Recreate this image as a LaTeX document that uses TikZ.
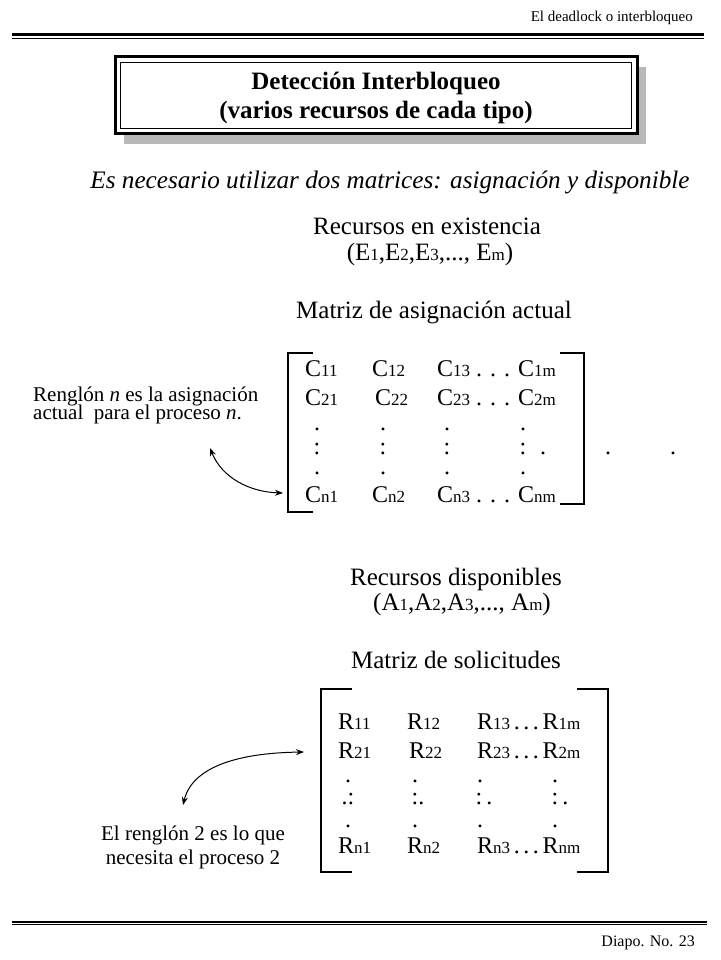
\documentclass[tikz,border=0pt]{standalone}
\usepackage{fontspec}
\setmainfont{Liberation Serif}
\usetikzlibrary{arrows.meta}
\newcommand{\ix}[1]{{\fontsize{17}{17}\selectfont #1}}
\newcommand{\tdots}{\hspace{0.15em}.\hspace{0.15em}.\hspace{0.15em}.\hspace{0.15em}}
\begin{document}
\begin{tikzpicture}[x=1pt,y=-1pt,
  hdr/.style={inner sep=0pt, anchor=base east, font=\fontsize{15}{18}\selectfont},
  ttl/.style={inner sep=0pt, anchor=base, font=\fontsize{25}{29}\selectfont\bfseries},
  body/.style={inner sep=0pt, anchor=base, font=\fontsize{25}{29}\selectfont},
  ent/.style={inner sep=0pt, anchor=base west, font=\fontsize{24}{28}\selectfont},
  dotn/.style={inner sep=0pt, anchor=base, text height=0.4em, text depth=0pt, font=\fontsize{24}{28}\selectfont},
  lbl/.style={inner sep=0pt, font=\fontsize{21}{24}\selectfont},
  brk/.style={line width=1.4pt},
  rulethick/.style={line width=2.4pt},
  rulethin/.style={line width=1.2pt},
  arr/.style={line width=1pt, {Stealth[length=8pt,width=6pt]}-{Stealth[length=8pt,width=6pt]}}
]
\useasboundingbox (0,0) rectangle (720,960);
% header
\node[hdr] (hdr) at (693,22) {El deadlock o interbloqueo};
\coordinate (hl1) at (12,34.5); \coordinate (hr1) at (704,34.5);
\coordinate (hl2) at (12,38.2); \coordinate (hr2) at (704,38.2);
\draw[rulethick] (hl1) -- (hr1);
\draw[rulethin] (hl2) -- (hr2);
% title box
\fill[gray!55] (124,67) rectangle (646,144);
\fill[white] (115,57) rectangle (637,134);
\draw[line width=3pt] (115,57) rectangle (637,134);
\draw[line width=0.8pt] (120.5,62.5) rectangle (631.5,128.5);
\node[ttl] (t1) at (376,90) {Detección Interbloqueo};
\node[ttl] (t2) at (376,119) {(varios recursos de cada tipo)};
% intro
\node[body, font=\fontsize{25.2}{29}\selectfont\itshape] (intro) at (390,188) {Es necesario utilizar dos matrices: asignación y disponible};
\node[body] (rexist) at (427,234) {Recursos en existencia};
\node[body] (evec) at (430,260) {(E\ix{1},E\ix{2},E\ix{3},..., E\ix{m})};
\node[body] (masig) at (434,318) {Matriz de asignación actual};
% matrix C
\draw[brk] (313,353) -- (288,353) -- (288,512) -- (313,512);
\draw[brk] (560,353) -- (584,353) -- (584,504) -- (560,504);
\node[ent] (c11) at (305,376) {C\ix{11}};
\node[ent] (c12) at (372,376) {C\ix{12}};
\node[ent] (c13) at (437,376) {C\ix{13} . . . C\ix{1m}};
\node[ent] (c21) at (305,405) {C\ix{21}};
\node[ent] (c22) at (375,405) {C\ix{22}};
\node[ent] (c23) at (437,405) {C\ix{23} . . . C\ix{2m}};
\foreach \x [count=\i] in {317,383,447,523}{
  \node[dotn] (cda\i) at (\x,430) {.};
  \node[dotn] (cdb\i) at (\x,454) {:};
  \node[dotn] (cdc\i) at (\x,474) {.};
}
\node[dotn] (cde) at (543,454) {.};
\node[dotn] (cdf) at (608,454) {.};
\node[dotn] (cdg) at (673,454) {.};
\node[ent] (cn1) at (305,502) {C\ix{n1}};
\node[ent] (cn2) at (372,502) {C\ix{n2}};
\node[ent] (cn3) at (437,502) {C\ix{n3} . . . C\ix{nm}};
% label 1
\node[lbl, anchor=base west] (l1a) at (33,401) {Renglón \textit{n} es la asignación};
\node[lbl, anchor=base west] (l1b) at (33,419) {actual\ \ para el proceso \textit{n}.};
\coordinate (a1s) at (210,448);
\coordinate (a1e) at (283,493);
\draw[arr] (a1s) .. controls (222,478) and (250,492) .. (a1e);
% recursos disponibles
\node[body] (rdisp) at (456,585) {Recursos disponibles};
\node[body] (avec) at (462,610) {(A\ix{1},A\ix{2},A\ix{3},..., A\ix{m})};
\node[body] (msol) at (456,668) {Matriz de solicitudes};
% matrix R
\draw[brk] (352,689) -- (321,689) -- (321,872) -- (352,872);
\draw[brk] (577,689) -- (608,689) -- (608,872) -- (577,872);
\node[ent] (r11) at (338,729) {R\ix{11}};
\node[ent] (r12) at (407,729) {R\ix{12}};
\node[ent] (r13) at (477,729) {R\ix{13}\tdots R\ix{1m}};
\node[ent] (r21) at (338,758) {R\ix{21}};
\node[ent] (r22) at (409,758) {R\ix{22}};
\node[ent] (r23) at (477,758) {R\ix{23}\tdots R\ix{2m}};
\foreach \x [count=\i] in {348,415,480,555}{
  \node[dotn] (rda\i) at (\x,782) {.};
  \node[dotn] (rdc\i) at (\x,827) {.};
}
\node[dotn] (rdb1) at (348,804) {.:};
\node[dotn] (rdb2) at (418,804) {:.};
\node[dotn] (rdb3) at (484,804) {:\,.};
\node[dotn] (rdb4) at (560,804) {:\,.};
\node[ent] (rn1) at (338,853) {R\ix{n1}};
\node[ent] (rn2) at (407,853) {R\ix{n2}};
\node[ent] (rn3) at (477,853) {R\ix{n3}\tdots R\ix{nm}};
% label 2
\node[lbl, anchor=base] (l2a) at (193,840) {El renglón 2 es lo que};
\node[lbl, anchor=base] (l2b) at (193,864) {necesita el proceso 2};
\coordinate (a2s) at (183,805);
\coordinate (a2e) at (304,752);
\draw[arr] (a2s) .. controls (192,768) and (235,753) .. (a2e);
% footer
\coordinate (fl1) at (12,921.7); \coordinate (fr1) at (707,921.7);
\coordinate (fl2) at (12,924.6); \coordinate (fr2) at (707,924.6);
\draw[line width=2pt] (fl1) -- (fr1);
\draw[line width=1.3pt] (fl2) -- (fr2);
\node[hdr, font=\fontsize{16}{18}\selectfont] (ftr) at (695,946) {Diapo. No. 23};
\end{tikzpicture}
\end{document}
